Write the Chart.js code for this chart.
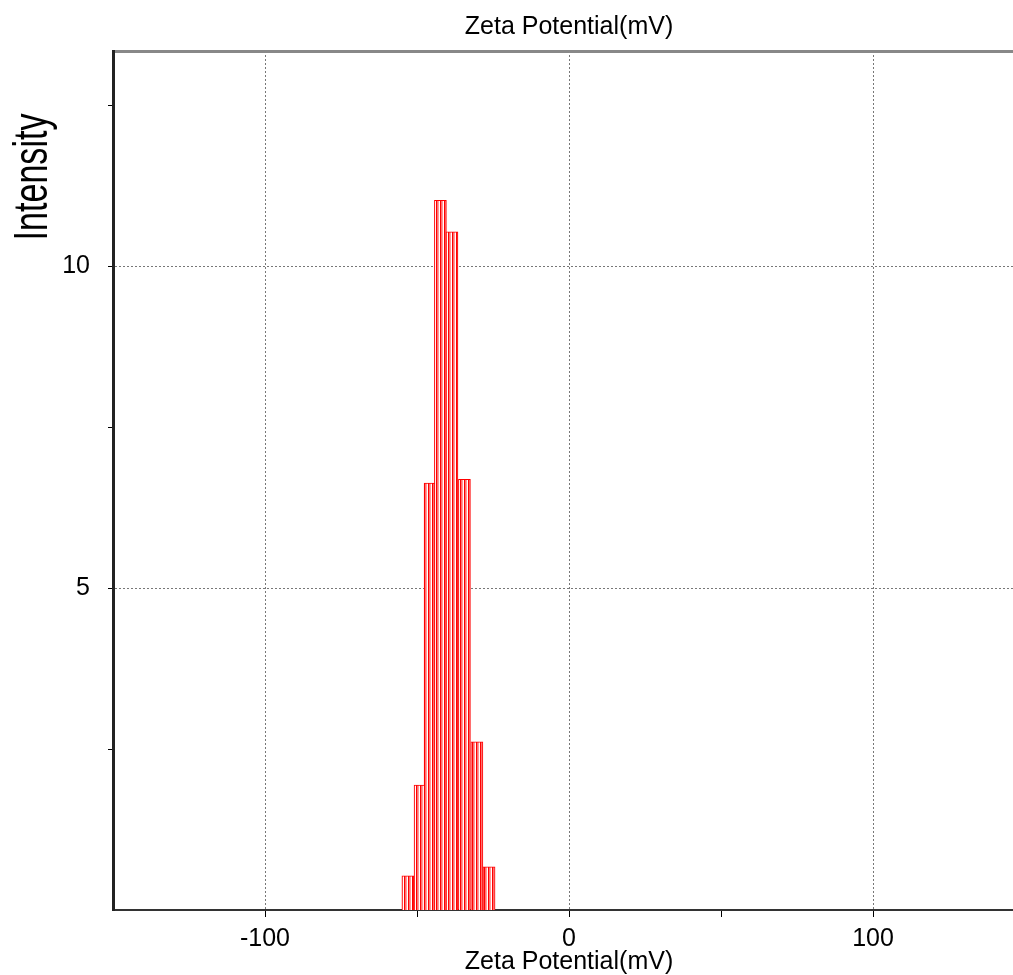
<!DOCTYPE html>
<html>
<head>
<meta charset="utf-8">
<title>Zeta Potential</title>
<script src="https://cdn.jsdelivr.net/npm/chart.js@4"></script>
<style>
  html, body { margin: 0; padding: 0; background: #fff; overflow: hidden; }
  canvas { display: block; }
</style>
</head>
<body>
<canvas id="zeta" width="1026" height="975"></canvas>
<script>
// ---------- DATA ----------
const zetaCenters = [-53, -49, -45.7, -42.3, -38.5, -34.4, -30.3, -26.3]; // mV
const intensities = [0.53, 1.94, 6.63, 11.02, 10.53, 6.69, 2.61, 0.67];
const xTicks = [-100, -50, 0, 50, 100];
const xLabelled = [-100, 0, 100];
const yTicks = [2.5, 5, 7.5, 10, 12.5];
const yLabelled = [5, 10];

const FONT = '"Liberation Sans", Arial, sans-serif';

// striped fill like the instrument software draws it
function stripePattern() {
  const c = document.createElement("canvas");
  c.width = 4; c.height = 1;
  const g = c.getContext("2d");
  const cols = ["#ff0000", "#ff7070", "#ff9a9a", "#ffffff"];
  cols.forEach((col, i) => { g.fillStyle = col; g.fillRect(i, 0, 1, 1); });
  return g.createPattern(c, "repeat");
}

// y title is drawn narrow and placed near the top, like the original
const yTitlePlugin = {
  id: "yTitle",
  afterDraw(chart) {
    const ctx = chart.ctx;
    ctx.save();
    ctx.translate(47, 177);
    ctx.rotate(-Math.PI / 2);
    ctx.scale(0.71, 1);
    ctx.font = "48px " + FONT;
    ctx.fillStyle = "#000";
    ctx.textAlign = "center";
    ctx.textBaseline = "alphabetic";
    ctx.fillText("Intensity", 0, 0);
    ctx.restore();
  }
};

const gridColor = (list) => (c) =>
  c.tick && list.includes(c.tick.value) ? "#777" : "rgba(0,0,0,0)";

new Chart(document.getElementById("zeta"), {
  type: "bar",
  data: {
    datasets: [{
      data: zetaCenters.map((x, i) => ({ x, y: intensities[i] })),
      backgroundColor: stripePattern(),
      borderColor: "#ff0000",
      borderWidth: 1,
      borderSkipped: "bottom",
      barThickness: 12,
    }],
  },
  options: {
    responsive: false,
    animation: false,
    layout: { padding: { left: 0, right: 1, top: 0, bottom: 0 } },
    plugins: { legend: { display: false }, tooltip: { enabled: false } },
    scales: {
      x: {
        type: "linear",
        position: "bottom",
        offset: false,
        min: -150,
        max: 150,
        afterBuildTicks: (s) => { s.ticks = xTicks.map(v => ({ value: v })); },
        afterFit: (s) => { s.height = 65; },
        ticks: {
          color: "#000",
          font: { family: FONT, size: 25 },
          padding: 7,
          maxRotation: 0,
          autoSkip: false,
          callback: (v) => (xLabelled.includes(v) ? String(v) : ""),
        },
        grid: {
          offset: false,
          color: gridColor(xLabelled),
          tickColor: "#000",
          tickLength: 7,
          tickBorderDash: [],
          lineWidth: 1,
        },
        border: { color: "#333", width: 2, dash: [2, 2] },
        title: {
          display: true,
          text: "Zeta Potential(mV)",
          color: "#000",
          font: { family: FONT, size: 25, lineHeight: 1 },
          padding: { top: 0, bottom: 0 },
        },
      },
      xTop: {
        type: "linear",
        position: "top",
        offset: false,
        min: -150,
        max: 150,
        afterFit: (s) => { s.height = 51; },
        ticks: { display: false },
        grid: { offset: false, drawOnChartArea: false, drawTicks: false },
        border: { color: "#888", width: 3 },
        title: {
          display: true,
          text: "Zeta Potential(mV)",
          color: "#000",
          font: { family: FONT, size: 25 },
          padding: { top: 12, bottom: 0 },
        },
      },
      y: {
        min: 0,
        max: 13.34,
        afterBuildTicks: (s) => { s.ticks = yTicks.map(v => ({ value: v })); },
        afterFit: (s) => { s.width = 113; },
        ticks: {
          color: "#000",
          font: { family: FONT, size: 25 },
          padding: 18,
          callback: (v) => (yLabelled.includes(v) ? String(v) : ""),
        },
        grid: {
          color: gridColor(yLabelled),
          tickColor: "#000",
          tickLength: 5,
          tickBorderDash: [],
          lineWidth: 1,
        },
        border: { color: "#222", width: 3, dash: [2, 2] },
      },
    },
  },
  plugins: [yTitlePlugin],
});
</script>
</body>
</html>
